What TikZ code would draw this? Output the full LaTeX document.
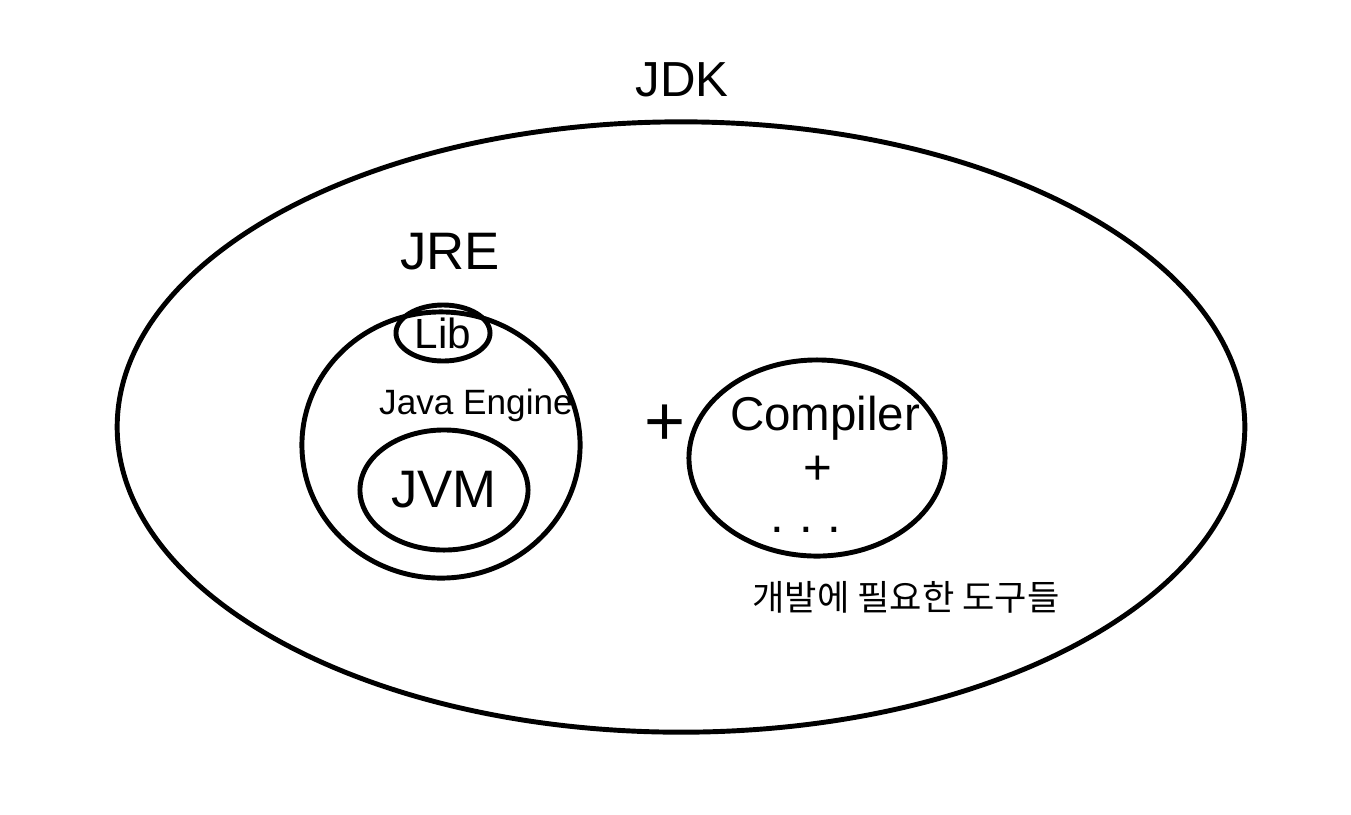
\documentclass[tikz,border=0pt]{standalone}
\usepackage{fontspec}
\setmainfont{Liberation Sans}
\newfontfamily\kofont{Noto Sans CJK KR}
\usetikzlibrary{shapes.geometric}

\begin{document}
\begin{tikzpicture}[x=0.01cm, y=-0.01cm,
    ring/.style={draw, ellipse, inner sep=0pt, line width=1.4pt},
    txt/.style={inner sep=1pt, font=\fontsize{#1}{#1}\selectfont}]
    \useasboundingbox (0,0) rectangle (1351,814);

    % JDK
    \node[ring, minimum width=11.27cm, minimum height=6.1cm] (jdk) at (681,427) {};
    \node[txt=14] (jdklabel) at (682,80) {JDK};

    % JRE
    \node[ring, minimum width=2.78cm, minimum height=2.66cm] (jre) at (441,445) {};
    \node[txt=15] (jrelabel) at (450,252) {JRE};
    \node[ring, txt=12, minimum width=0.94cm, minimum height=0.56cm] (lib) at (443,333) {Lib};
    \node[txt=10] (engine) at (476,405) {Java Engine};
    \node[ring, txt=15, minimum width=1.68cm, minimum height=1.2cm] (jvm) at (444,490) {JVM};

    % plus
    \node[txt=20] (plus) at (665,425) {+};

    % Tools
    \node[ring, minimum width=2.56cm, minimum height=1.96cm] (tools) at (817,458) {};
    \node[txt=13.5] (compiler) at (825,418) {Compiler};
    \node[txt=14, inner sep=0pt] (plusin) at (818,470) {+};
    \node[txt=14, inner sep=0pt] (dots) at (806,530) {.\hspace{0.3em}.\hspace{0.3em}.};
    \node[txt=10, font=\kofont\fontsize{10}{10}\selectfont] (tooltext) at (906,597) {개발에 필요한 도구들};
\end{tikzpicture}
\end{document}
